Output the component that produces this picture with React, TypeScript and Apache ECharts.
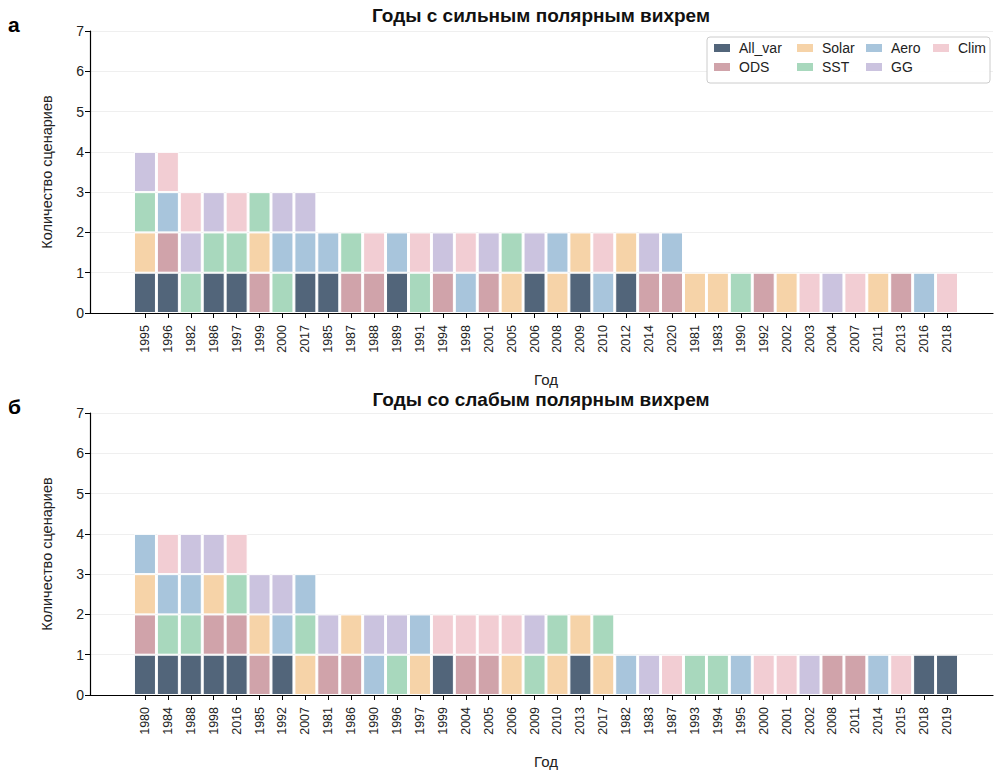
import React, { useEffect, useRef } from "react";
import * as echarts from "echarts";

const scenarioNames = ["All_var", "ODS", "Solar", "SST", "Aero", "GG", "Clim"];
const scenarioColors = ["#52657a", "#d0a3aa", "#f6d3a8", "#a8d8bd", "#a8c5dc", "#cbc3df", "#f2cdd3"];

const strongYears = [
  "1995", "1996", "1982", "1986", "1997", "1999", "2000", "2017", "1985", "1987", "1988", "1989",
  "1991", "1994", "1998", "2001", "2005", "2006", "2008", "2009", "2010", "2012", "2014", "2020",
  "1981", "1983", "1990", "1992", "2002", "2003", "2004", "2007", "2011", "2013", "2016", "2018",
];
const strongStacks = [
  ["All_var", "Solar", "SST", "GG"],
  ["All_var", "ODS", "Aero", "Clim"],
  ["SST", "GG", "Clim"],
  ["All_var", "SST", "GG"],
  ["All_var", "SST", "Clim"],
  ["ODS", "Solar", "SST"],
  ["SST", "Aero", "GG"],
  ["All_var", "Aero", "GG"],
  ["All_var", "Aero"],
  ["ODS", "SST"],
  ["ODS", "Clim"],
  ["All_var", "Aero"],
  ["SST", "Clim"],
  ["ODS", "GG"],
  ["Aero", "Clim"],
  ["ODS", "GG"],
  ["Solar", "SST"],
  ["All_var", "GG"],
  ["Solar", "Aero"],
  ["All_var", "Solar"],
  ["Aero", "Clim"],
  ["All_var", "Solar"],
  ["ODS", "GG"],
  ["ODS", "Aero"],
  ["Solar"],
  ["Solar"],
  ["SST"],
  ["ODS"],
  ["Solar"],
  ["Clim"],
  ["GG"],
  ["Clim"],
  ["Solar"],
  ["ODS"],
  ["Aero"],
  ["Clim"],
];

const weakYears = [
  "1980", "1984", "1988", "1998", "2016", "1985", "1992", "2007", "1981", "1986", "1990", "1996",
  "1997", "1999", "2004", "2005", "2006", "2009", "2010", "2013", "2017", "1982", "1983", "1987",
  "1993", "1994", "1995", "2000", "2001", "2002", "2008", "2011", "2014", "2015", "2018", "2019",
];
const weakStacks = [
  ["All_var", "ODS", "Solar", "Aero"],
  ["All_var", "SST", "Aero", "Clim"],
  ["All_var", "SST", "Aero", "GG"],
  ["All_var", "ODS", "Solar", "GG"],
  ["All_var", "ODS", "SST", "Clim"],
  ["ODS", "Solar", "GG"],
  ["All_var", "Aero", "GG"],
  ["Solar", "SST", "Aero"],
  ["ODS", "GG"],
  ["ODS", "Solar"],
  ["Aero", "GG"],
  ["SST", "GG"],
  ["Solar", "Aero"],
  ["All_var", "Clim"],
  ["ODS", "Clim"],
  ["ODS", "Clim"],
  ["Solar", "Clim"],
  ["SST", "GG"],
  ["Solar", "SST"],
  ["All_var", "Solar"],
  ["Solar", "SST"],
  ["Aero"],
  ["GG"],
  ["Clim"],
  ["SST"],
  ["SST"],
  ["Aero"],
  ["Clim"],
  ["Clim"],
  ["GG"],
  ["ODS"],
  ["ODS"],
  ["Aero"],
  ["Clim"],
  ["All_var"],
  ["All_var"],
];

const yTicks = [0, 1, 2, 3, 4, 5, 6, 7];

const FONT = "'Liberation Sans', Arial, Helvetica, sans-serif";
const TXT = "#222222";

export default function App() {
  const ref = useRef<HTMLDivElement>(null);

  useEffect(() => {
    if (!ref.current) return;
    const chart = echarts.init(ref.current, undefined, { renderer: "svg" });

    const axLeft = 90;
    const axRight = 6;
    const barLeft = 133.5;
    const barWidth = 825;
    const plotH = 282;
    const tops = [31, 413];

    const grids: any[] = [];
    const xAxes: any[] = [];
    const yAxes: any[] = [];
    const series: any[] = [];

    const panels = [
      { years: strongYears, stacks: strongStacks },
      { years: weakYears, stacks: weakStacks },
    ];

    panels.forEach((p, i) => {
      const top = tops[i];
      grids.push({ left: axLeft, right: axRight, top, height: plotH });
      grids.push({ left: barLeft, width: barWidth, top, height: plotH });
      xAxes.push({
        type: "value",
        gridIndex: 2 * i,
        min: 0,
        max: 1,
        axisLine: { show: true, lineStyle: { color: "#000", width: 1.2 } },
        axisTick: { show: false },
        axisLabel: { show: false },
        splitLine: { show: false },
      });
      yAxes.push({
        type: "value",
        gridIndex: 2 * i,
        min: yTicks[0],
        max: yTicks[yTicks.length - 1],
        interval: 1,
        name: "Количество сценариев",
        nameLocation: "middle",
        nameGap: 36,
        nameTextStyle: { fontFamily: FONT, fontSize: 14.5, color: TXT },
        axisLine: { show: true, lineStyle: { color: "#000", width: 1.2 } },
        axisTick: { show: true, length: 5, lineStyle: { color: "#000", width: 1 } },
        axisLabel: { fontFamily: FONT, fontSize: 14, color: TXT, margin: 6 },
        splitLine: { show: true, lineStyle: { color: "#efefef", width: 1 } },
      });
      xAxes.push({
        type: "category",
        gridIndex: 2 * i + 1,
        data: p.years,
        name: "Год",
        nameLocation: "middle",
        nameGap: 59,
        nameTextStyle: { fontFamily: FONT, fontSize: 15, color: TXT },
        axisLine: { show: false },
        axisTick: { show: true, alignWithLabel: true, length: 5, lineStyle: { color: "#000", width: 1 } },
        axisLabel: { rotate: 90, fontFamily: FONT, fontSize: 12.5, color: TXT, margin: 12, interval: 0 },
        splitLine: { show: false },
      });
      yAxes.push({
        type: "value",
        gridIndex: 2 * i + 1,
        min: 0,
        max: 7,
        show: false,
      });
      scenarioNames.forEach((name, k) => {
        series.push({
          type: "bar",
          name,
          xAxisIndex: 2 * i + 1,
          yAxisIndex: 2 * i + 1,
          stack: "p" + i,
          barCategoryGap: "4%",
          itemStyle: { color: scenarioColors[k], borderColor: "#ffffff", borderWidth: 1 },
          data: p.stacks.map((s) => (s.includes(name) ? 1 : null)),
        });
      });
    });

    const legendCols = [
      { left: 712, data: ["All_var", "ODS"] },
      { left: 795, data: ["Solar", "SST"] },
      { left: 864, data: ["Aero", "GG"] },
      { left: 931, data: ["Clim"] },
    ];

    const option: any = {
      animation: false,
      title: [
        {
          text: "Годы с сильным полярным вихрем",
          left: 541,
          top: 6,
          textAlign: "center",
          padding: 0,
          textStyle: { fontFamily: FONT, fontSize: 19, fontWeight: "bold", color: "#111" },
        },
        {
          text: "Годы со слабым полярным вихрем",
          left: 541,
          top: 390,
          textAlign: "center",
          padding: 0,
          textStyle: { fontFamily: FONT, fontSize: 19, fontWeight: "bold", color: "#111" },
        },
        {
          text: "а",
          left: 8,
          top: 14,
          padding: 0,
          textStyle: { fontFamily: FONT, fontSize: 21, fontWeight: "bold", color: "#000" },
        },
        {
          text: "б",
          left: 8,
          top: 396,
          padding: 0,
          textStyle: { fontFamily: FONT, fontSize: 21, fontWeight: "bold", color: "#000" },
        },
      ],
      legend: legendCols.map((c) => ({
        orient: "vertical",
        left: c.left,
        top: 41,
        padding: 0,
        itemWidth: 18,
        itemHeight: 10,
        itemGap: 5,
        icon: "rect",
        z: 10,
        data: c.data,
        selectedMode: false,
        textStyle: { fontFamily: FONT, fontSize: 14, color: TXT, padding: [0, 0, 0, 3] },
      })),
      graphic: [
        {
          type: "rect",
          z: 5,
          shape: { x: 707, y: 37, width: 283, height: 46, r: 3 },
          style: { fill: "rgba(255,255,255,0.9)", stroke: "#cccccc", lineWidth: 1 },
        },
      ],
      grid: grids,
      xAxis: xAxes,
      yAxis: yAxes,
      series,
    };

    chart.setOption(option);
    return () => chart.dispose();
  }, []);

  return (
    <div
      ref={ref}
      style={{ position: "absolute", left: 0, top: 0, width: 999, height: 775, background: "#fff" }}
    />
  );
}
